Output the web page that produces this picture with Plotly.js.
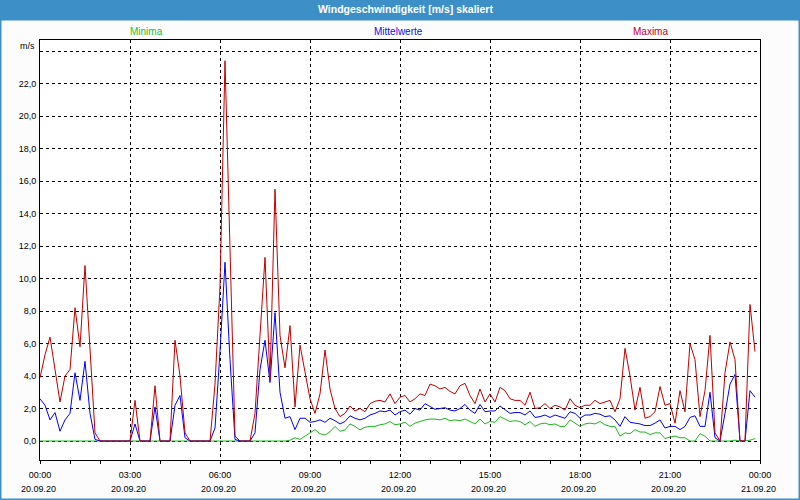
<!DOCTYPE html>
<html>
<head>
<meta charset="utf-8">
<script src="https://cdn.plot.ly/plotly-3.0.1.min.js"></script>
<style>
html,body{margin:0;padding:0;background:#fff;}
#chart{width:800px;height:500px;}
</style>
</head>
<body>
<div id="chart"></div>
<script>
// ---------- data ----------
const titleText = 'Windgeschwindigkeit [m/s] skaliert';
const seriesNames = ['Minima', 'Mittelwerte', 'Maxima'];
const startTime = '2020-09-20 00:00';
const stepMinutes = 10;

const minima = [
  0,0,0,0,0,0,0,0,0,0, 0,0,0,0,0,0,0,0,0,0,
  0,0,0,0,0,0,0,0,0,0, 0,0,0,0,0,0,0,0,0,0,
  0,0,0,0,0,0,0,0,0,0,
  0.05,0.2,0.1,0.3,0.47,0.7,0.45,0.37,0.57,0.9,
  0.6,0.68,1.05,0.9,0.68,0.85,0.9,0.9,1.0,1.05,
  1.2,1.0,1.05,1.15,0.9,1.1,1.2,1.3,1.35,1.35,
  1.3,1.4,1.25,1.3,1.25,1.35,1.2,1.05,1.35,1.05,
  1.2,1.15,1.5,1.35,1.2,1.25,1.2,1.0,1.2,0.9,
  1.05,1.1,1.0,1.05,0.9,0.9,1.3,1.1,0.9,1.05,
  1.1,1.05,1.2,1.0,0.9,0.9,0.3,0.5,0.45,0.7,
  0.55,0.55,0.4,0.5,0.5,0.15,0.25,0.3,0.2,0.2,
  0,0,0.45,0.3,0,0,0,0,0,0.05,
  0,0,0.05,0.15
];

const mittelwerte = [
  2.6,2.2,1.3,1.75,0.6,1.3,1.7,4.2,2.5,4.9,
  1.7,0.1,0,0,0,0,0,0,0,1.05,
  0,0,0,2.1,0,0,0,2.2,2.8,0.2,
  0,0,0,0,0,0.8,5.5,11.0,5.0,0.1,
  0,0,0,0.5,4.4,6.2,3.6,7.9,3.0,1.4,
  1.5,0.7,1.4,1.4,1.15,1.2,1.3,1.15,1.4,1.25,
  1.05,1.2,1.55,1.4,1.3,1.4,1.6,1.7,1.85,1.8,
  1.9,1.6,1.8,1.9,1.65,2.0,1.9,2.3,2.15,1.95,
  2.0,2.05,1.9,1.85,2.0,2.25,1.9,1.7,2.25,1.8,
  1.85,1.85,2.15,1.9,1.7,1.75,1.75,1.6,1.85,1.45,
  1.5,1.6,1.45,1.6,1.5,1.4,1.8,1.7,1.4,1.6,
  1.6,1.7,1.65,1.5,1.55,1.3,0.9,1.5,1.15,1.1,
  1.05,0.95,0.95,1.1,1.3,0.8,0.9,0.9,0.7,0.9,
  1.45,1.55,0.9,0.9,3.0,0.2,0,1.7,3.5,4.1,
  0,0,3.1,2.7
];

const maxima = [
  3.9,5.3,6.4,4.3,2.4,4.0,4.4,8.2,5.8,10.8,
  5.3,0.5,0,0,0,0,0,0,0,2.5,
  0,0,0,3.4,0,0,0,6.2,4.0,0.5,
  0,0,0,0,0,3.5,9.5,23.4,11.5,0.3,
  0,0,0,1.7,6.2,11.3,3.8,15.5,6.5,4.5,
  7.1,2.1,5.9,4.2,2.6,1.7,2.9,5.6,3.2,2.0,
  1.5,1.7,2.15,1.85,2.0,1.8,2.3,2.45,2.5,2.4,
  2.9,2.3,2.7,2.8,2.4,2.6,2.9,2.8,3.5,3.4,
  3.2,3.3,3.05,2.9,3.4,3.55,2.8,2.3,3.2,2.4,
  2.9,2.4,3.3,3.1,2.6,2.5,2.5,2.2,3.0,2.0,
  2.05,2.3,2.0,2.2,2.1,1.9,2.6,2.2,2.05,2.2,
  2.2,2.5,2.3,2.4,2.5,1.8,2.6,5.7,4.0,1.9,
  3.3,1.4,1.5,1.8,3.35,2.2,2.3,1.1,3.1,1.8,
  6.0,5.0,1.5,3.1,6.5,0.5,0,4.2,6.1,5.0,
  0,0,8.4,5.5
];

const xTickVals = ['2020-09-20 00:00','2020-09-20 03:00','2020-09-20 06:00','2020-09-20 09:00',
                   '2020-09-20 12:00','2020-09-20 15:00','2020-09-20 18:00','2020-09-20 21:00',
                   '2020-09-21 00:00'];
const xTickTimes = ['00:00','03:00','06:00','09:00','12:00','15:00','18:00','21:00','00:00'];
const xTickDates = ['20.09.20','20.09.20','20.09.20','20.09.20','20.09.20','20.09.20','20.09.20','20.09.20','21.09.20'];
const yTickVals = [0,2,4,6,8,10,12,14,16,18,20,22,24];
const yTickText = ['0,0','2,0','4,0','6,0','8,0','10,0','12,0','14,0','16,0','18,0','20,0','22,0',''];
const yUnit = 'm/s';

// ---------- styles ----------
const lineColors = ['#1cb81c', '#0000ff', '#c00000'];
const labelColors = ['#18c030', '#1010e0', '#c0002c'];
const FONT = '"Liberation Sans", Arial, sans-serif';

// page geometry helpers (pixels -> paper coords)
const W = 800, H = 500, M = {l:40, r:40, t:40, b:40};
const PW = W - M.l - M.r, PH = H - M.t - M.b;
const px = p => (p - M.l) / PW;
const py = p => (H - M.b - p) / PH;

const seriesData = [minima, mittelwerte, maxima];
const traces = seriesData.map((ys, k) => ({
  type: 'scatter',
  mode: 'lines',
  name: seriesNames[k],
  x0: startTime,
  dx: stepMinutes * 60000,
  y: ys,
  line: {color: lineColors[k], width: 1},
  hoverinfo: 'skip'
}));

const xRange = [xTickVals[0], xTickVals[xTickVals.length - 1]];
const legendX = [146.7, 398.7, 650.8];

const annotations = [
  {xref:'paper', yref:'paper', x: px(405), y: py(9), text: titleText, showarrow:false,
   xanchor:'center', yanchor:'middle', font:{family:FONT, size:10.5, color:'#ffffff', weight:'bold'}},
  {xref:'paper', yref:'paper', x: px(37), y: py(45.7), text: yUnit, showarrow:false,
   xanchor:'right', yanchor:'middle', font:{family:FONT, size:9, color:'#000'}}
];
seriesNames.forEach((n, k) => annotations.push({
  xref:'paper', yref:'paper', x: px(legendX[k]), y: py(31), text: n, showarrow:false,
  xanchor:'center', yanchor:'middle', font:{family:FONT, size:10, color:labelColors[k]}
}));
// date line under each time tick label
xTickVals.forEach((v, k) => annotations.push({
  xref:'x', yref:'paper', x: v, y: py(488.7), text: xTickDates[k], showarrow:false,
  xanchor:'center', yanchor:'middle', xshift: -2, font:{family:FONT, size:9, color:'#000'}
}));

const layout = {
  width: W, height: H,
  margin: {l:M.l, r:M.r, t:M.t, b:M.b, pad:0},
  paper_bgcolor: '#fcfcfc',
  plot_bgcolor: '#ffffff',
  font: {family: FONT, size: 9, color: '#000'},
  showlegend: false,
  xaxis: {
    type: 'date', range: xRange,
    tickmode: 'array', tickvals: xTickVals, ticktext: xTickTimes,
    ticks: 'outside', ticklen: 3, tickwidth: 1, tickcolor: '#000',
    minor: {tick0: startTime, dtick: 3600000, ticks: 'outside', ticklen: 3, tickcolor: '#000', showgrid: false},
    showgrid: true, gridcolor: '#000', gridwidth: 1, griddash: '3px,3px',
    showline: true, linecolor: '#000', linewidth: 1, mirror: true,
    zeroline: false, fixedrange: true,
    ticklabelstandoff: 3
  },
  yaxis: {
    range: [-19/16.25, 401/16.25],
    tickmode: 'array', tickvals: yTickVals, ticktext: yTickText,
    ticks: '', showgrid: true, gridcolor: '#000', gridwidth: 1, griddash: '3px,3px',
    showline: true, linecolor: '#000', linewidth: 1, mirror: true,
    zeroline: false, fixedrange: true, ticklabelstandoff: 1
  },
  shapes: [
    {type:'rect', xref:'paper', yref:'paper', x0: px(0), x1: px(W), y0: py(20.5), y1: py(0),
     fillcolor:'#3d8fc8', line:{width:0}, layer:'above'},
    {type:'rect', xref:'paper', yref:'paper', x0: px(0.75), x1: px(W-0.75), y0: py(H-0.75), y1: py(0.75),
     fillcolor:'rgba(0,0,0,0)', line:{color:'#3d8fc8', width:1.5}, layer:'above'}
  ],
  annotations: annotations
};

Plotly.newPlot('chart', traces, layout, {staticPlot: true, displayModeBar: false});
</script>
</body>
</html>
